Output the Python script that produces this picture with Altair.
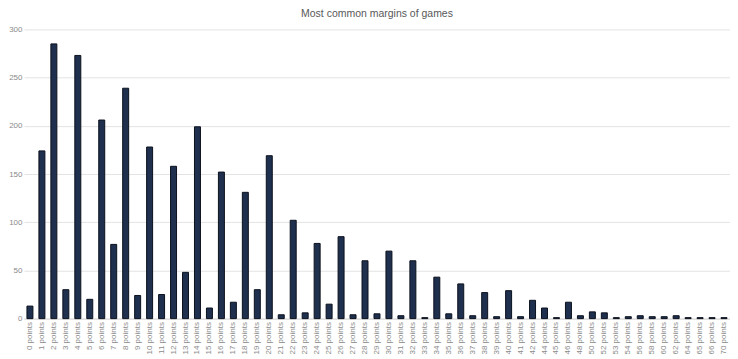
import altair as alt
import pandas as pd

margins = list(range(0, 43)) + [44, 45, 46, 48, 50, 52, 53, 54, 56, 58, 60, 62, 64, 65, 66, 70]
labels = [f"{m} points" for m in margins]
counts = [13, 174, 285, 30, 273, 20, 206, 77, 239, 24,
          178, 25, 158, 48, 199, 11, 152, 17, 131, 30,
          169, 4, 102, 6, 78, 15, 85, 4, 60, 5,
          70, 3, 60, 1, 43, 5, 36, 3, 27, 2,
          29, 2, 19, 11, 1, 17, 3, 7, 6, 1,
          2, 3, 2, 2, 3, 1, 1, 1, 1]

df = pd.DataFrame({"label": labels, "count": counts})

chart = alt.Chart(df).mark_bar(
    color="#1f2f4e", stroke="#0b111d", strokeWidth=1
).encode(
    x=alt.X("label:N", sort=None, title=None,
            scale=alt.Scale(paddingInner=0.5, paddingOuter=0.25),
            axis=alt.Axis(labelAngle=-90, labelFontSize=8, labelColor="#8a8a8a",
                          ticks=False, domainColor="#d9d9d9", labelPadding=3,
                          labelFont="Liberation Sans")),
    y=alt.Y("count:Q", title=None,
            scale=alt.Scale(domain=[0, 300], nice=False),
            axis=alt.Axis(values=[0, 50, 100, 150, 200, 250, 300], labelFontSize=8,
                          labelColor="#8a8a8a", ticks=False, domain=False,
                          gridColor="#e3e3e3", labelPadding=2,
                          labelFont="Liberation Sans")),
).properties(
    width=708, height=290,
    padding={"left": 0, "right": 0, "top": 0, "bottom": 0},
    title=alt.TitleParams("Most common margins of games", fontSize=10.5,
                          font="Liberation Sans", fontWeight="normal",
                          color="#595959", offset=6, anchor="middle"),
).configure_view(stroke=None)

chart.save("out.html", embed_options={"renderer": "svg", "actions": False})
